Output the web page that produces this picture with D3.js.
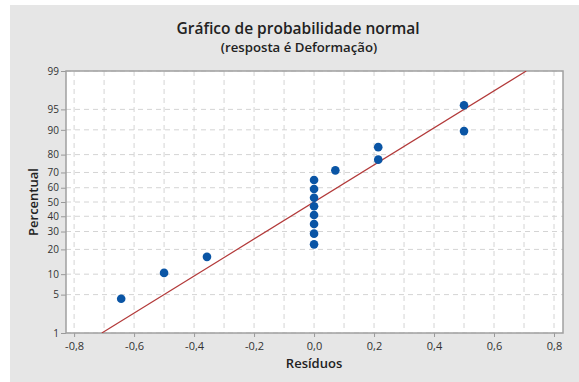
<!DOCTYPE html>
<html>
<head>
<meta charset="utf-8">
<script src="https://cdn.jsdelivr.net/npm/d3@7"></script>
<style>
  body { margin: 0; background: #fff; }
  svg { display: block; font-family: 'Open Sans', 'Noto Sans', sans-serif; }
</style>
</head>
<body>
<script>
var residuos = [-0.643, -0.5, -0.357, 0, 0, 0, 0, 0, 0, 0, 0, 0.071, 0.214, 0.214, 0.5, 0.5]
var percentual = [4.3, 10.4, 16.5, 22.6, 28.7, 34.8, 40.9, 47.0, 53.0, 59.1, 65.2, 71.3, 77.4, 83.5, 89.6, 95.7]

var yTicks = [1, 5, 10, 20, 30, 40, 50, 60, 70, 80, 90, 95, 99]
var xTicks = [-0.8, -0.6, -0.4, -0.2, 0, 0.2, 0.4, 0.6, 0.8]
var xGrid = [-0.8, -0.7, -0.6, -0.5, -0.4, -0.3, -0.2, -0.1, 0, 0.1, 0.2, 0.3, 0.4, 0.5, 0.6, 0.7, 0.8]

var W = 579
var H = 382
var margin = { top: 71, right: 16, bottom: 49, left: 66 }
var width = W - margin.left - margin.right
var height = H - margin.top - margin.bottom

// inverse normal cdf (Acklam)
function probit (p) {
  var a = [-39.69683028665376, 220.9460984245205, -275.9285104469687, 138.3577518672690, -30.66479806614716, 2.506628277459239]
  var b = [-54.47609879822406, 161.5858368580409, -155.6989798598866, 66.80131188771972, -13.28068155288572]
  var c = [-0.007784894002430293, -0.3223964580411365, -2.400758277161838, -2.549732539343734, 4.374664141464968, 2.938163982698783]
  var d = [0.007784695709041462, 0.3224671290700398, 2.445134137142996, 3.754408661907416]
  var q, r
  if (p < 0.02425) {
    q = Math.sqrt(-2 * Math.log(p))
    return (((((c[0] * q + c[1]) * q + c[2]) * q + c[3]) * q + c[4]) * q + c[5]) / ((((d[0] * q + d[1]) * q + d[2]) * q + d[3]) * q + 1)
  }
  if (p > 1 - 0.02425) return -probit(1 - p)
  q = p - 0.5
  r = q * q
  return (((((a[0] * r + a[1]) * r + a[2]) * r + a[3]) * r + a[4]) * r + a[5]) * q / (((((b[0] * r + b[1]) * r + b[2]) * r + b[3]) * r + b[4]) * r + 1)
}

var x = d3.scaleLinear()
  .domain([-0.827, 0.83])
  .range([0, width])

var z = d3.scaleLinear()
  .domain([probit(0.01), probit(0.99)])
  .range([height, 0])

function y (pct) { return z(probit(pct / 100)) }

function fmt (v) { return d3.format('.1f')(v).replace('\u2212', '-').replace('.', ',') }

var svg = d3.select('body').append('svg')
  .attr('width', W)
  .attr('height', H)

svg.append('rect')
  .attr('x', 10).attr('y', 5)
  .attr('width', W - 10).attr('height', H - 5)
  .attr('fill', '#e6e6e6')

svg.append('text')
  .attr('x', 298).attr('y', 33.5)
  .attr('text-anchor', 'middle')
  .attr('font-size', 15.5)
  .attr('font-weight', 600)
  .attr('fill', '#222')
  .text('Gráfico de probabilidade normal')

svg.append('text')
  .attr('x', 299).attr('y', 52)
  .attr('text-anchor', 'middle')
  .attr('font-size', 13.2)
  .attr('font-weight', 600)
  .attr('fill', '#222')
  .text('(resposta é Deformação)')

var g = svg.append('g')
  .attr('transform', 'translate(' + margin.left + ',' + margin.top + ')')

g.append('rect')
  .attr('width', width).attr('height', height)
  .attr('fill', '#fff')

// grid
g.selectAll('.vgrid').data(xGrid).enter().append('line')
  .attr('class', 'vgrid')
  .attr('x1', function (d) { return x(d) }).attr('x2', function (d) { return x(d) })
  .attr('y1', 0).attr('y2', height)
  .attr('stroke', '#d4d4d4').attr('stroke-dasharray', '5,4')

g.selectAll('.hgrid').data(yTicks).enter().append('line')
  .attr('class', 'hgrid')
  .attr('x1', 0).attr('x2', width)
  .attr('y1', function (d) { return y(d) }).attr('y2', function (d) { return y(d) })
  .attr('stroke', '#d4d4d4').attr('stroke-dasharray', '5,4')

// axes
var yAxis = g.append('g')
  .call(d3.axisLeft(z)
    .tickValues(yTicks.map(function (d) { return probit(d / 100) }))
    .tickSize(5)
    .tickPadding(2)
    .tickFormat(function (d, i) { return yTicks[i] }))
yAxis.select('.domain').remove()

var xAxis = g.append('g')
  .attr('transform', 'translate(0,' + height + ')')
  .call(d3.axisBottom(x)
    .tickValues(xTicks)
    .tickSize(4)
    .tickPadding(5)
    .tickFormat(fmt))
xAxis.select('.domain').remove()

g.selectAll('.tick line').attr('stroke', '#999')
g.selectAll('.tick text')
  .attr('fill', '#333')
  .attr('font-family', "'Open Sans', 'Noto Sans', sans-serif")
yAxis.selectAll('.tick text').attr('font-size', 10)
xAxis.selectAll('.tick text').attr('font-size', 11)

g.append('rect')
  .attr('width', width).attr('height', height)
  .attr('fill', 'none')
  .attr('stroke', '#a0a0a0').attr('stroke-width', 1.5)

// fitted line
var mu = d3.mean(residuos)
var sd = d3.deviation(residuos)
var clip = g.append('clipPath').attr('id', 'clip')
clip.append('rect').attr('width', width).attr('height', height)

g.append('line')
  .attr('clip-path', 'url(#clip)')
  .attr('x1', x(mu + sd * probit(0.01))).attr('y1', y(1))
  .attr('x2', x(mu + sd * probit(0.99))).attr('y2', y(99))
  .attr('stroke', '#b33a3a').attr('stroke-width', 1.2)

g.selectAll('.pt').data(residuos).enter().append('circle')
  .attr('class', 'pt')
  .attr('cx', function (d) { return x(d) })
  .attr('cy', function (d, i) { return y(percentual[i]) })
  .attr('r', 4.3)
  .attr('fill', '#0a55a5')

svg.append('text')
  .attr('x', margin.left + x(0)).attr('y', 368)
  .attr('text-anchor', 'middle')
  .attr('font-size', 13)
  .attr('font-weight', 600)
  .attr('fill', '#222')
  .text('Resíduos')

svg.append('text')
  .attr('transform', 'translate(38,' + (margin.top + height / 2) + ') rotate(-90)')
  .attr('text-anchor', 'middle')
  .attr('font-size', 13)
  .attr('font-weight', 600)
  .attr('fill', '#222')
  .text('Percentual')
</script>
</body>
</html>
